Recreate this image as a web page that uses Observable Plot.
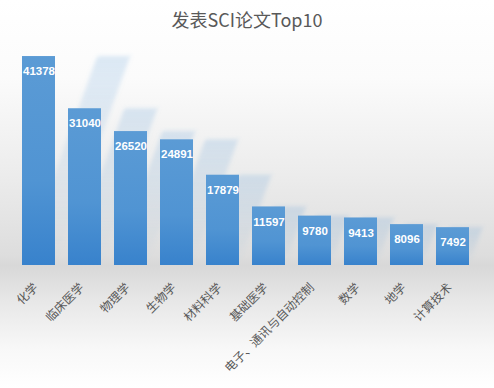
<!DOCTYPE html>
<html>
<head>
<meta charset="utf-8">
<script src="https://cdn.jsdelivr.net/npm/d3@7"></script>
<script src="https://cdn.jsdelivr.net/npm/@observablehq/plot@0.6"></script>
<style>
  html, body { margin: 0; padding: 0; }
  body {
    width: 494px; height: 388px; overflow: hidden; position: relative;
    background: linear-gradient(to bottom, #ffffff 0%, #fbfbfb 20%, #ececec 45%, #dddddd 66%, #d8d8d8 68.5%, #e8e8e8 78%, #f8f8f8 90%, #ffffff 100%);
  }
  #title {
    position: absolute; top: 6px; left: 0; width: 494px; text-align: center;
    font-family: "Noto Sans CJK SC", "Liberation Sans", sans-serif; font-size: 18px; color: #595959;
  }
  #chart { position: absolute; top: 0; left: 0; }
</style>
</head>
<body>
<div id="title">发表SCI论文Top10</div>
<div id="chart"></div>
<script>
const categories = ["化学", "临床医学", "物理学", "生物学", "材料科学", "基础医学", "电子、通讯与自动控制", "数学", "地学", "计算技术"];
const values = [41378, 31040, 26520, 24891, 17879, 11597, 9780, 9413, 8096, 7492];

const data = categories.map((c, i) => ({category: c, value: values[i]}));

const plot = Plot.plot({
  width: 494,
  height: 388,
  margin: 0,
  style: {background: "transparent", overflow: "visible"},
  x: {domain: categories, range: [20, 471], paddingInner: 0.29, paddingOuter: 0, axis: null},
  y: {domain: [0, 45000], range: [265, 265 - 45000 * 0.00505], axis: null},
  marks: [
    Plot.barY(data, {x: "category", y: "value", fill: "url(#shadowGrad)"}),
    Plot.barY(data, {x: "category", y: "value", fill: "url(#barGrad)"}),
    Plot.text(data, {x: "category", y: "value", text: d => String(d.value), dy: 15, fill: "white",
      fontWeight: "bold", fontSize: 11.5, fontFamily: "Liberation Sans, Arial, sans-serif"}),
    Plot.text(data, {x: "category", y: () => 0, text: "category", rotate: -45, textAnchor: "end",
      dx: -3, dy: 20, fill: "#595959", fontSize: 12, fontFamily: "Noto Sans CJK SC, sans-serif"})
  ]
});

const svg = d3.select(plot);
const defs = svg.insert("defs", ":first-child");
const bg = defs.append("linearGradient").attr("id", "barGrad").attr("x1", 0).attr("y1", 0).attr("x2", 0).attr("y2", 1);
bg.append("stop").attr("offset", "0%").attr("stop-color", "#5b9bd5");
bg.append("stop").attr("offset", "60%").attr("stop-color", "#5094d3");
bg.append("stop").attr("offset", "100%").attr("stop-color", "#3882cc");
const sg = defs.append("linearGradient").attr("id", "shadowGrad").attr("x1", 0).attr("y1", 0).attr("x2", 0).attr("y2", 1);
sg.append("stop").attr("offset", "0%").attr("stop-color", "#5b9bd5").attr("stop-opacity", 0.2);
sg.append("stop").attr("offset", "55%").attr("stop-color", "#5b9bd5").attr("stop-opacity", 0.1);
sg.append("stop").attr("offset", "100%").attr("stop-color", "#5b9bd5").attr("stop-opacity", 0);
const blur = defs.append("filter").attr("id", "shadowBlur").attr("x", "-20%").attr("y", "-20%").attr("width", "140%").attr("height", "140%");
blur.append("feGaussianBlur").attr("stdDeviation", 2.2);

const base = 265;
const skew = -Math.atan(0.36) * 180 / Math.PI;
const shadowGroups = [];
plot.querySelectorAll("g").forEach(g => {
  if ((g.getAttribute("fill") || "").includes("shadowGrad")) shadowGroups.push(g);
});
if (!shadowGroups.length) {
  plot.querySelectorAll("rect").forEach(r => {
    if ((r.getAttribute("fill") || "").includes("shadowGrad") && !shadowGroups.includes(r.parentNode)) shadowGroups.push(r.parentNode);
  });
}
shadowGroups.forEach(g => {
  const wrap = document.createElementNS("http://www.w3.org/2000/svg", "g");
  wrap.setAttribute("transform", `translate(0,${base}) skewX(${skew}) translate(0,${-base})`);
  wrap.setAttribute("filter", "url(#shadowBlur)");
  g.parentNode.insertBefore(wrap, g);
  wrap.appendChild(g);
});

document.getElementById("chart").appendChild(plot);
</script>
</body>
</html>
